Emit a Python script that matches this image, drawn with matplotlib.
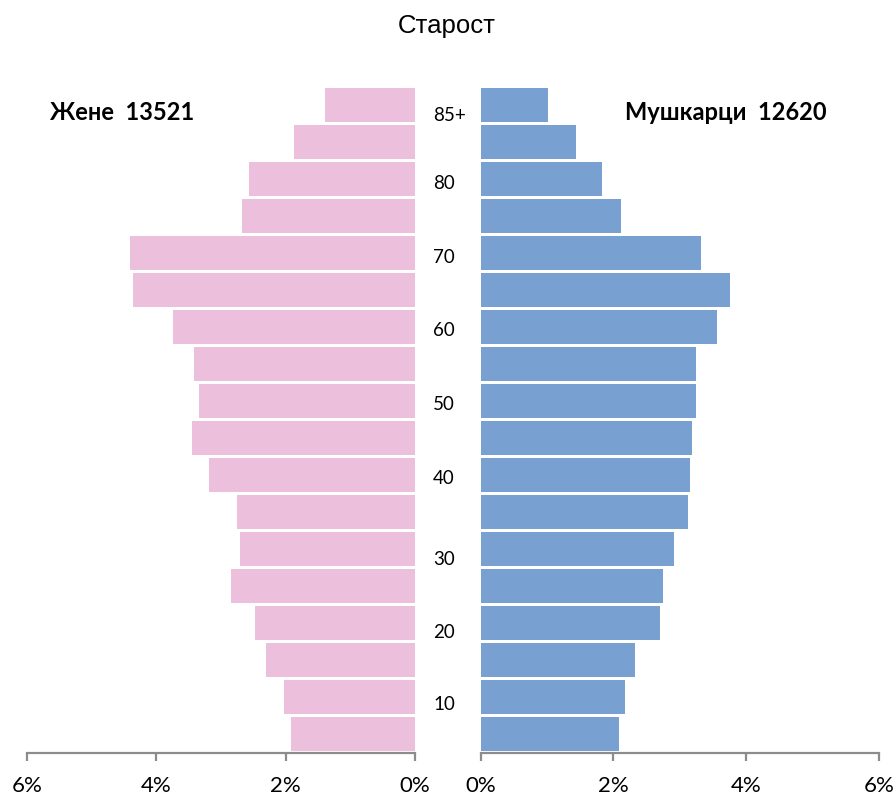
import matplotlib
matplotlib.use("Agg")
import matplotlib.pyplot as plt
import matplotlib.transforms as mtransforms
import numpy as np

# Age groups, youngest to oldest
age_groups = ['0-4', '5-9', '10-14', '15-19', '20-24', '25-29', '30-34', '35-39',
              '40-44', '45-49', '50-54', '55-59', '60-64', '65-69', '70-74',
              '75-79', '80-84', '85+']
women_pct = [1.91, 2.02, 2.30, 2.48, 2.84, 2.71, 2.76, 3.19, 3.45, 3.34,
             3.41, 3.75, 4.36, 4.40, 2.68, 2.57, 1.87, 1.39]
men_pct = [2.09, 2.18, 2.32, 2.71, 2.75, 2.91, 3.12, 3.16, 3.19, 3.24,
           3.24, 3.56, 3.75, 3.32, 2.11, 1.83, 1.44, 1.01]

center_labels = ['85+', '80', '70', '60', '50', '40', '30', '20', '10']
center_label_rows = [16.73, 14.9, 12.9, 10.92, 8.9, 6.92, 4.72, 2.75, 0.8]

x_ticks = [0, 2, 4, 6]
x_ticklabels = ['0%', '2%', '4%', '6%']

title = 'Старост'
women_label = 'Жене  13521'
men_label = 'Мушкарци  12620'

pink = '#ECBFDC'
blue = '#78A1D2'
axis_gray = '#8C8C8C'

fig = plt.figure(figsize=(8.96, 7.99), dpi=100)
bottom = 1 - 752.5 / 799
height = (752.5 - 87) / 799
ax_l = fig.add_axes([27 / 896, bottom, (415 - 27) / 896, height])
ax_r = fig.add_axes([480.5 / 896, bottom, (879 - 480.5) / 896, height])

y = np.arange(len(age_groups))
ax_l.barh(y, women_pct, height=0.92, color=pink, edgecolor='none')
ax_r.barh(y, men_pct, height=0.92, color=blue, edgecolor='none')

ax_l.set_xlim(6, 0)
ax_r.set_xlim(0, 6)
for ax in (ax_l, ax_r):
    ax.set_ylim(-0.5, len(age_groups) - 0.5)
    for s in ('top', 'left', 'right'):
        ax.spines[s].set_visible(False)
    ax.spines['bottom'].set_color(axis_gray)
    ax.spines['bottom'].set_linewidth(1.6)
    ax.set_yticks([])
    ax.set_xticks(x_ticks)
    ax.set_xticklabels(x_ticklabels, fontfamily=['Lato', 'DejaVu Sans'], fontsize=16)
    ax.tick_params(axis='x', direction='out', length=6, width=1.6, color=axis_gray,
                   pad=11, labelcolor='black')
    ax.set_facecolor('none')

trans = mtransforms.blended_transform_factory(fig.transFigure, ax_r.transData)
for lab, row in zip(center_labels, center_label_rows):
    ax_r.text(433 / 896, row, lab, transform=trans, ha='left', va='center',
              fontsize=13.5, fontfamily=['Lato', 'DejaVu Sans'], color='black')

fig.text(447 / 896, 1 - 26 / 799, title, ha='center', va='center', fontsize=18.5,
         fontfamily=['Liberation Sans', 'DejaVu Sans'])
fig.text(50 / 896, 1 - 113 / 799, women_label, ha='left', va='center', fontsize=17,
         fontweight='bold', fontfamily=['Lato', 'DejaVu Sans'])
fig.text(625 / 896, 1 - 113 / 799, men_label, ha='left', va='center', fontsize=17,
         fontweight='bold', fontfamily=['Lato', 'DejaVu Sans'])

fig.savefig('out.png', dpi=100, facecolor='white')
